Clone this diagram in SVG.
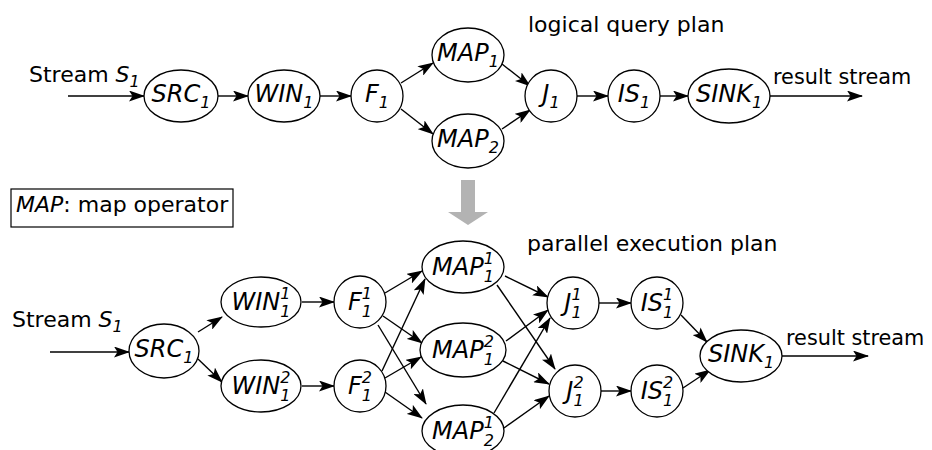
<svg xmlns="http://www.w3.org/2000/svg" width="932" height="450" viewBox="0 0 932 450">
<defs>
<marker id="ah" markerWidth="16" markerHeight="11" refX="15" refY="5.5" orient="auto" markerUnits="userSpaceOnUse">
<path d="M0,0 L16,5.5 L0,11 L3.5,5.5 z" fill="#000"/>
</marker>
<style>
.n{fill:#fff;stroke:#000;stroke-width:1.3}
.e{fill:none;stroke:#000;stroke-width:1.4;marker-end:url(#ah)}
.t{font-family:"DejaVu Sans",Verdana,sans-serif;font-size:22px;fill:#000}
.r{font-size:20.8px}
.l{font-family:"DejaVu Sans",Verdana,sans-serif;font-size:24px;font-style:italic;fill:#000;text-anchor:middle}
.s{font-size:16px}
</style>
</defs>
<rect width="932" height="450" fill="#fff"/>

<!-- free texts -->
<text class="t" x="29" y="82">Stream <tspan font-style="italic">S</tspan><tspan font-style="italic" font-size="16" dy="5">1</tspan></text>
<text class="t" x="528" y="32">logical query plan</text>
<text class="t r" x="773" y="84">result stream</text>
<rect x="11" y="189" width="222" height="38" fill="#fff" stroke="#000" stroke-width="1.2"/>
<text class="t" x="16" y="212"><tspan font-style="italic">MAP</tspan>: map operator</text>
<text class="t" x="527" y="251">parallel execution plan</text>
<text class="t" x="12" y="327">Stream <tspan font-style="italic">S</tspan><tspan font-style="italic" font-size="16" dy="5">1</tspan></text>
<text class="t r" x="786" y="345">result stream</text>
<polygon points="461,180 475,180 475,212 488,212 468,225 448,212 461,212" fill="#b3b3b3"/>

<g id="connectors">
<line class="e" x1="68" y1="96" x2="144" y2="96"/>
<line class="e" x1="218" y1="96" x2="248" y2="96"/>
<line class="e" x1="320" y1="96" x2="351" y2="96"/>
<line class="e" x1="401" y1="83" x2="433" y2="63"/>
<line class="e" x1="401" y1="109" x2="433" y2="134"/>
<line class="e" x1="502" y1="64" x2="530" y2="86"/>
<line class="e" x1="502" y1="129" x2="530" y2="110"/>
<line class="e" x1="577" y1="96" x2="608" y2="96"/>
<line class="e" x1="660" y1="96" x2="688" y2="96"/>
<line class="e" x1="770" y1="96" x2="862" y2="96"/>

<line class="e" x1="50" y1="352" x2="129" y2="352"/>
<line class="e" x1="198" y1="332" x2="222" y2="317"/>
<line class="e" x1="198" y1="359" x2="222" y2="382"/>
<line class="e" x1="302" y1="302" x2="334" y2="302"/>
<line class="e" x1="302" y1="386" x2="334" y2="386"/>
<line class="e" x1="385" y1="293" x2="422" y2="271"/>
<line class="e" x1="383" y1="316" x2="422" y2="343"/>
<line class="e" x1="378" y1="325" x2="426" y2="404"/>
<line class="e" x1="382" y1="371" x2="425" y2="279"/>
<line class="e" x1="385" y1="378" x2="421" y2="357"/>
<line class="e" x1="385" y1="392" x2="422" y2="418"/>
<line class="e" x1="505" y1="276" x2="548" y2="297"/>
<line class="e" x1="497" y1="285" x2="555" y2="369"/>
<line class="e" x1="506" y1="341" x2="548" y2="310"/>
<line class="e" x1="503" y1="361" x2="549" y2="384"/>
<line class="e" x1="494" y1="413" x2="550" y2="318"/>
<line class="e" x1="504" y1="428" x2="549" y2="396"/>
<line class="e" x1="599" y1="303" x2="631" y2="303"/>
<line class="e" x1="601" y1="391" x2="631" y2="391"/>
<line class="e" x1="681" y1="315" x2="707" y2="342"/>
<line class="e" x1="683" y1="388" x2="710" y2="370"/>
<line class="e" x1="782" y1="356" x2="868" y2="356"/>
</g>

<!-- logical plan nodes -->
<g id="src1"><ellipse class="n" cx="181" cy="96" rx="37" ry="26"/><text class="l" x="181" y="102">SRC<tspan class="s" dy="6">1</tspan></text></g>
<g id="win1"><ellipse class="n" cx="284" cy="96" rx="36" ry="26"/><text class="l" x="284" y="102">WIN<tspan class="s" dy="6">1</tspan></text></g>
<g id="f1"><circle class="n" cx="377" cy="96" r="26"/><text class="l" x="377" y="102">F<tspan class="s" dy="6">1</tspan></text></g>
<g id="map1"><ellipse class="n" cx="468" cy="55" rx="36" ry="27"/><text class="l" x="468" y="61">MAP<tspan class="s" dy="6">1</tspan></text></g>
<g id="map2"><ellipse class="n" cx="468" cy="141" rx="36" ry="27"/><text class="l" x="468" y="147">MAP<tspan class="s" dy="6">2</tspan></text></g>
<g id="j1"><circle class="n" cx="551" cy="96" r="26"/><text class="l" x="551" y="102">J<tspan class="s" dy="6">1</tspan></text></g>
<g id="is1"><circle class="n" cx="634" cy="96" r="26"/><text class="l" x="634" y="102">IS<tspan class="s" dy="6">1</tspan></text></g>
<g id="sink1"><ellipse class="n" cx="729" cy="96" rx="41" ry="27"/><text class="l" x="729" y="102">SINK<tspan class="s" dy="6">1</tspan></text></g>

<!-- parallel plan nodes -->
<g id="p-src1"><ellipse class="n" cx="164" cy="351" rx="35" ry="27"/><text class="l" x="164" y="357">SRC<tspan class="s" dy="6">1</tspan></text></g>
<g id="p-win11"><ellipse class="n" cx="261" cy="302" rx="40" ry="25"/><text class="l" x="261" y="310">WIN<tspan class="s" dy="-11">1</tspan><tspan class="s" dx="-10.2" dy="18">1</tspan></text></g>
<g id="p-win12"><ellipse class="n" cx="261" cy="386" rx="40" ry="26"/><text class="l" x="261" y="394">WIN<tspan class="s" dy="-11">2</tspan><tspan class="s" dx="-10.2" dy="18">1</tspan></text></g>
<g id="p-f11"><circle class="n" cx="360" cy="302" r="26"/><text class="l" x="360" y="310">F<tspan class="s" dy="-11">1</tspan><tspan class="s" dx="-10.2" dy="18">1</tspan></text></g>
<g id="p-f12"><circle class="n" cx="360" cy="386" r="26"/><text class="l" x="360" y="394">F<tspan class="s" dy="-11">2</tspan><tspan class="s" dx="-10.2" dy="18">1</tspan></text></g>
<g id="p-map11"><ellipse class="n" cx="463" cy="267" rx="41" ry="26"/><text class="l" x="463" y="275">MAP<tspan class="s" dy="-11">1</tspan><tspan class="s" dx="-10.2" dy="18">1</tspan></text></g>
<g id="p-map12"><ellipse class="n" cx="463" cy="350" rx="43" ry="27"/><text class="l" x="463" y="358">MAP<tspan class="s" dy="-11">2</tspan><tspan class="s" dx="-10.2" dy="18">1</tspan></text></g>
<g id="p-map21"><ellipse class="n" cx="463" cy="431" rx="41" ry="26"/><text class="l" x="463" y="439">MAP<tspan class="s" dy="-11">1</tspan><tspan class="s" dx="-10.2" dy="18">2</tspan></text></g>
<g id="p-j11"><circle class="n" cx="573" cy="303" r="26"/><text class="l" x="573" y="311">J<tspan class="s" dy="-11">1</tspan><tspan class="s" dx="-10.2" dy="18">1</tspan></text></g>
<g id="p-j12"><circle class="n" cx="575" cy="391" r="26"/><text class="l" x="575" y="399">J<tspan class="s" dy="-11">2</tspan><tspan class="s" dx="-10.2" dy="18">1</tspan></text></g>
<g id="p-is11"><circle class="n" cx="657" cy="303" r="26"/><text class="l" x="657" y="311">IS<tspan class="s" dy="-11">1</tspan><tspan class="s" dx="-10.2" dy="18">1</tspan></text></g>
<g id="p-is12"><circle class="n" cx="657" cy="391" r="26"/><text class="l" x="657" y="399">IS<tspan class="s" dy="-11">2</tspan><tspan class="s" dx="-10.2" dy="18">1</tspan></text></g>
<g id="p-sink1"><ellipse class="n" cx="741" cy="356" rx="41" ry="26"/><text class="l" x="741" y="362">SINK<tspan class="s" dy="6">1</tspan></text></g>
</svg>
